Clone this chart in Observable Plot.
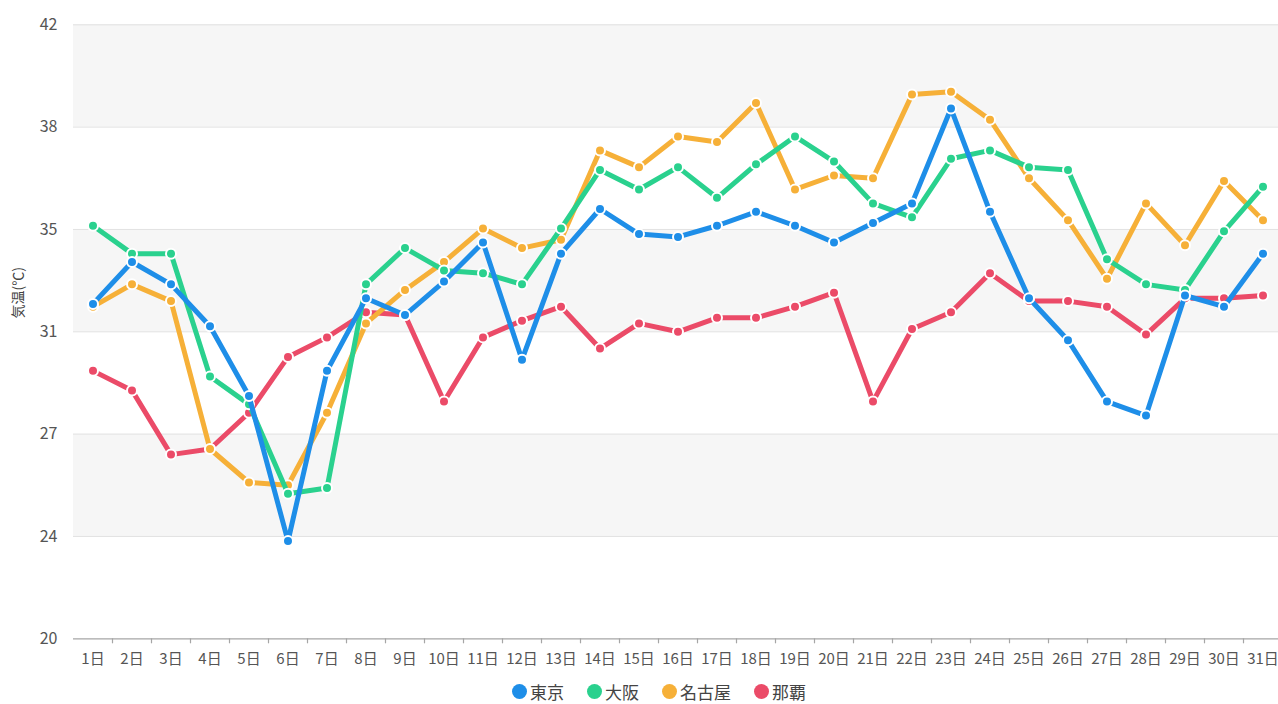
<!DOCTYPE html>
<html>
<head>
<meta charset="utf-8">
<script src="https://cdn.jsdelivr.net/npm/d3@7"></script>
<script src="https://cdn.jsdelivr.net/npm/@observablehq/plot@0.6"></script>
<style>
  html, body { margin: 0; padding: 0; background: #fff; overflow: hidden; }
  body { font-family: "Noto Sans CJK JP", "Noto Sans", sans-serif; }
  #wrap { position: relative; width: 1278px; height: 704px; }
  #chart svg { display: block; }
  #legend { position: absolute; left: 512px; top: 679px; display: flex; align-items: center; gap: 23px; font-size: 17px; line-height: normal; color: #444; white-space: nowrap; }
  #legend .item { display: inline-flex; align-items: center; gap: 3px; }
  #legend .sw { display: inline-block; width: 15px; height: 15px; border-radius: 50%; flex: none; }
</style>
</head>
<body>
<div id="wrap">
  <div id="chart"></div>
  <div id="legend"></div>
</div>
<script>
// ---- data ----
const days = ["1日","2日","3日","4日","5日","6日","7日","8日","9日","10日","11日","12日","13日","14日","15日","16日","17日","18日","19日","20日","21日","22日","23日","24日","25日","26日","27日","28日","29日","30日","31日"];

const seriesNames = ["東京", "大阪", "名古屋", "那覇"];
const seriesColors = ["#1e8ee8", "#2ad18e", "#f6b038", "#eb4b68"];

const tokyo  = [32.0, 33.5, 32.7, 31.2, 28.7, 23.5, 29.6, 32.2, 31.6, 32.8, 34.2, 30.0, 33.8, 35.4, 34.5, 34.4, 34.8, 35.3, 34.8, 34.2, 34.9, 35.6, 39.0, 35.3, 32.2, 30.7, 28.5, 28.0, 32.3, 31.9, 33.8];
const osaka  = [34.8, 33.8, 33.8, 29.4, 28.4, 25.2, 25.4, 32.7, 34.0, 33.2, 33.1, 32.7, 34.7, 36.8, 36.1, 36.9, 35.8, 37.0, 38.0, 37.1, 35.6, 35.1, 37.2, 37.5, 36.9, 36.8, 33.6, 32.7, 32.5, 34.6, 36.2];
const nagoya = [31.9, 32.7, 32.1, 26.8, 25.6, 25.5, 28.1, 31.3, 32.5, 33.5, 34.7, 34.0, 34.3, 37.5, 36.9, 38.0, 37.8, 39.2, 36.1, 36.6, 36.5, 39.5, 39.6, 38.6, 36.5, 35.0, 32.9, 35.6, 34.1, 36.4, 35.0];
const naha   = [29.6, 28.9, 26.6, 26.8, 28.1, 30.1, 30.8, 31.7, 31.6, 28.5, 30.8, 31.4, 31.9, 30.4, 31.3, 31.0, 31.5, 31.5, 31.9, 32.4, 28.5, 31.1, 31.7, 33.1, 32.1, 32.1, 31.9, 30.9, 32.2, 32.2, 32.3];

const yMin = 20, yMax = 42;
const yTickLabels = ["20", "24", "27", "31", "35", "38", "42"];
const yLabel = "気温(℃)";

// ---- build ----
const seriesValues = [tokyo, osaka, nagoya, naha];
const yTicks = yTickLabels.map((_, i) => yMin + i * (yMax - yMin) / (yTickLabels.length - 1));
const bands = d3.range(1, yTicks.length - 1, 2).map(i => ({y1: yTicks[i], y2: yTicks[i + 1]}));
const xLo = 0.5, xHi = days.length + 0.5;
const boundaries = d3.range(1.5, days.length, 1);

const seriesMarks = [];
[3, 2, 1, 0].forEach(s => {
  const rows = seriesValues[s].map((v, i) => ({day: i + 1, value: v}));
  seriesMarks.push(Plot.line(rows, {x: "day", y: "value", stroke: seriesColors[s], strokeWidth: 5, strokeLinejoin: "round", strokeLinecap: "round"}));
  seriesMarks.push(Plot.dot(rows, {x: "day", y: "value", r: 5, fill: seriesColors[s], stroke: "white", strokeWidth: 2}));
});

const chart = Plot.plot({
  width: 1278,
  height: 680,
  marginLeft: 73,
  marginRight: 0,
  marginTop: 24,
  marginBottom: 42,
  style: {fontFamily: '"Noto Sans CJK JP", "Noto Sans", sans-serif', background: "transparent"},
  x: {type: "linear", domain: [xLo, xHi], range: [73, 1282], axis: null},
  y: {domain: [yMin, yMax], range: [638.3, 24.3], axis: null},
  marks: [
    Plot.rect(bands, {x1: () => xLo, x2: () => xHi, y1: "y1", y2: "y2", fill: "#f6f6f6"}),
    Plot.ruleY(yTicks.slice(1), {stroke: "#e2e2e2", strokeWidth: 1}),
    Plot.ruleY([yMin], {stroke: "#a6a6a6", strokeWidth: 1.3}),
    Plot.ruleX(boundaries, {y1: yMin, y2: yMin, insetBottom: -5, stroke: "#a6a6a6", strokeWidth: 1.2}),
    Plot.axisY({ticks: yTicks, tickSize: 0, tickPadding: 16, fontSize: 16, color: "#555",
      tickFormat: d => yTickLabels[yTicks.indexOf(d)], label: null}),
    Plot.text(days, {x: (d, i) => i + 1, frameAnchor: "bottom", dy: 25, fontSize: 15, fill: "#555"}),
    Plot.text([yLabel], {frameAnchor: "left", rotate: -90, dx: -55, dy: -13, fontSize: 14, fill: "#444"}),
    ...seriesMarks
  ]
});
document.getElementById("chart").appendChild(chart);

// legend
const legend = document.getElementById("legend");
seriesNames.forEach((name, i) => {
  const item = document.createElement("span");
  item.className = "item";
  const sw = document.createElement("span");
  sw.className = "sw";
  sw.style.background = seriesColors[i];
  const label = document.createElement("span");
  label.textContent = name;
  item.appendChild(sw);
  item.appendChild(label);
  legend.appendChild(item);
});
</script>
</body>
</html>
